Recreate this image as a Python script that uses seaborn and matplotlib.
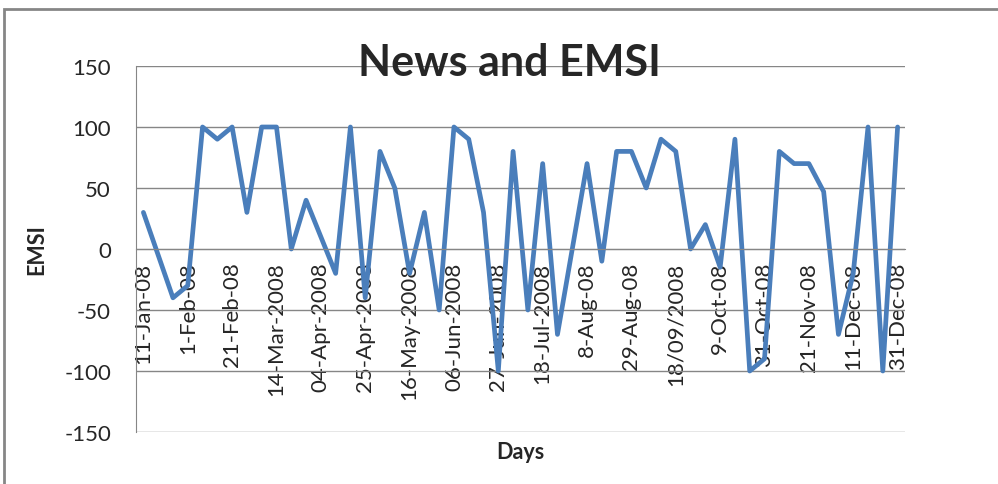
import matplotlib
matplotlib.use("Agg")
import matplotlib.pyplot as plt
import matplotlib.patches as patches
import seaborn as sns
import pandas as pd
import numpy as np

# weekly EMSI values, 52 observations through 2008
emsi = [30, -5, -40, -30, 100, 90, 100, 30, 100, 100,
        0, 40, 10, -20, 100, -40, 80, 50, -20, 30,
        -50, 100, 90, 30, -100, 80, -50, 70, -70, 0,
        70, -10, 80, 80, 50, 90, 80, 0, 20, -15,
        90, -100, -90, 80, 70, 70, 47, -70, -20, 100,
        -100, 100]

# only every third day gets a label on the axis
day_labels = ["11-Jan-08", "1-Feb-08", "21-Feb-08", "14-Mar-2008", "04-Apr-2008",
              "25-Apr-2008", "16-May-2008", "06-Jun-2008", "27-Jun-2008",
              "18-Jul-2008", "8-Aug-08", "29-Aug-08", "18/09/2008", "9-Oct-08",
              "31-Oct-08", "21-Nov-08", "11-Dec-08", "31-Dec-08"]

y_ticks = [-150, -100, -50, 0, 50, 100, 150]

df = pd.DataFrame({"day": range(len(emsi)), "EMSI": emsi})

sns.set_style("white")
plt.rcParams["font.family"] = ["Lato", "DejaVu Sans"]
plt.rcParams["axes.unicode_minus"] = False

grey = "#868686"

fig = plt.figure(figsize=(9.98, 4.85), dpi=100)
ax = fig.add_axes([136 / 998, 52 / 485, 769 / 998, 366 / 485])

sns.lineplot(data=df, x="day", y="EMSI", ax=ax, color="#4A7EBB", linewidth=3.4)

ax.set_ylim(-150, 150)
ax.set_xlim(-0.5, len(emsi) - 0.5)
ax.set_yticks(y_ticks)
ax.yaxis.grid(True, color=grey, linewidth=1)
ax.set_axisbelow(True)

ax.set_xticks(np.arange(0, len(emsi), 3))
ax.set_xticklabels(day_labels)
ax.set_xticks(np.arange(-0.5, len(emsi), 1), minor=True)
ax.tick_params(axis="x", which="major", length=0, pad=9, labelrotation=90, labelsize=16)
ax.tick_params(axis="x", which="minor", length=6, color=grey, width=1, direction="out")
ax.tick_params(axis="y", length=6, color=grey, width=1, direction="out", pad=12, labelsize=16)
for lbl in ax.get_xticklabels():
    lbl.set_rotation(90)

for s in ["top", "right"]:
    ax.spines[s].set_visible(False)
ax.spines["bottom"].set_position(("data", 0))
ax.spines["bottom"].set_color(grey)
ax.spines["left"].set_color(grey)

ax.set_title("News and EMSI", fontsize=31, fontweight="bold", x=0.486, y=0.975, pad=0)
ax.set_xlabel("Days", fontsize=15.5, fontweight="bold")
ax.set_ylabel("EMSI", fontsize=15.5, fontweight="bold")
ax.xaxis.set_label_coords(0.5, -0.025)
ax.yaxis.set_label_coords(-0.1157, 0.5)

# chart area border, only top and left edges fall inside the picture
fig.add_artist(patches.Rectangle((4 / 998, -1), 2, 1 + 475 / 485, transform=fig.transFigure,
                                 fill=False, edgecolor=grey, linewidth=2))

plt.savefig("out.png", dpi=100)
plt.close()
